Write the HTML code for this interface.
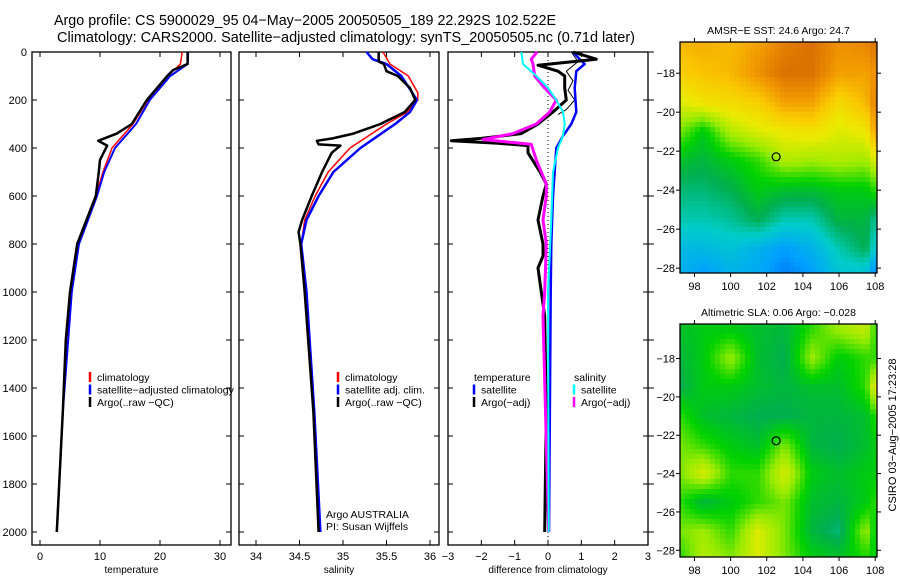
<!DOCTYPE html>
<html><head><meta charset="utf-8">
<style>
body{margin:0;background:#fff;font-family:"Liberation Sans",sans-serif;}
svg text{font-family:"Liberation Sans",sans-serif;}
</style></head>
<body>
<svg id="fig" width="900" height="580" viewBox="0 0 900 580" xmlns="http://www.w3.org/2000/svg">
<rect width="900" height="580" fill="#fff"/>
<text x="54" y="25" font-size="14.5" text-anchor="start" textLength="502" lengthAdjust="spacingAndGlyphs">Argo profile: CS 5900029_95 04−May−2005 20050505_189 22.292S 102.522E</text>
<text x="57" y="42" font-size="14.5" text-anchor="start" textLength="578" lengthAdjust="spacingAndGlyphs">Climatology: CARS2000. Satellite−adjusted climatology: synTS_20050505.nc (0.71d later)</text>
<g id="plots"></g>
</svg>
<script>
// ---------- data ----------
const depthTicks=[0,200,400,600,800,1000,1200,1400,1600,1800,2000];
const tempTicks=[0,10,20,30];
const salTicks=[34,34.5,35,35.5,36];
const diffTicks=[-3,-2,-1,0,1,2,3];

const tDepth=[0,50,75,100,200,300,340,370,390,450,500,600,800,1000,1200,1500,2000];
const tArgo=[24.6,24.6,22.2,21.2,17.8,15.3,12.8,9.7,11.2,10,9.8,9.3,6.2,5.0,4.3,3.8,2.8];
const clDepth=[0,50,100,200,300,400,500,600,800,1000,1500,2000];
const tClim=[23.7,23.4,21.3,18,15.5,12,10.5,9.3,6.3,5.2,3.8,2.8];
const tSat=[24.7,24.6,21.7,18.3,16,12.5,10.7,9.5,6.5,5.3,3.8,2.8];

const sArgoDepth=[0,40,50,80,100,150,200,250,300,340,360,370,385,390,420,500,600,700,750,800,1000,1500,2000];
const sArgo=[35.41,35.41,35.47,35.5,35.63,35.77,35.83,35.71,35.43,35.12,34.88,34.70,34.72,34.97,34.87,34.76,34.64,34.53,34.49,34.51,34.56,34.66,34.72];
const sClimDepth=[0,50,100,170,200,250,300,400,500,600,700,800,1000,1500,2000];
const sClim=[35.46,35.54,35.75,35.86,35.86,35.74,35.5,35.08,34.83,34.68,34.56,34.52,34.58,34.66,34.74];
const sSatDepth=[0,30,50,100,200,250,300,400,500,600,700,800,1000,1500,2000];
const sSat=[35.27,35.34,35.5,35.67,35.85,35.77,35.6,35.2,34.89,34.72,34.58,34.52,34.58,34.67,34.74];

const dTempDepth=[0,30,55,80,100,150,200,250,300,340,360,370,380,390,420,500,550,600,700,800,850,900,1000,1100,1500,2000];
const dTempArgo=[0.75,1.45,-0.3,0.3,0.5,0.5,0.55,0.15,-0.3,-0.8,-2.0,-2.9,-1.5,-0.6,-0.6,-0.24,-0.05,-0.15,-0.3,-0.15,-0.15,-0.3,-0.2,-0.1,-0.05,-0.1];
const dTempSatDepth=[0,30,50,80,150,250,300,350,400,600,800,1000,2000];
const dTempSat=[0.75,0.95,1.1,0.85,0.8,0.85,0.7,0.45,0.25,0.15,0.1,0.08,0.03];
const dSalSatDepth=[0,50,100,150,200,250,300,350,400,500,700,1000,2000];
const dSalSat=[-0.8,-0.75,-0.35,0,0.25,0.45,0.5,0.45,0.3,0.15,0.1,0.0,0.02];
const dSalArgoDepth=[0,30,50,100,150,200,250,300,340,365,375,385,450,550,600,700,800,1000,1100,2000];
const dSalArgo=[-0.33,-0.5,-0.45,-0.4,-0.1,0.25,0.05,-0.35,-1.05,-1.95,-1.2,-0.5,-0.35,-0.05,-0.05,-0.15,-0.05,-0.1,-0.15,0.02];
const dRawDepth=[0,40,80,120,160,200,240,260];
const dRaw=[0.7,0.9,0.55,0.75,0.6,0.8,0.55,0.3];

const lons=[97.2,98.5,100,101.5,103,104.5,106,107.5,108];
const lats=[-16.5,-18,-19.5,-21,-22.5,-24,-25.5,-27,-28.2];
const sstGrid=[
[.8,.82,.8,.85,.92,.95,.88,.9,.95],
[.75,.78,.8,.88,.95,.95,.85,.85,.88],
[.65,.7,.72,.75,.85,.85,.72,.8,.92],
[.55,.45,.6,.65,.68,.7,.65,.68,.85],
[.42,.4,.45,.5,.6,.58,.6,.58,.65],
[.35,.35,.38,.45,.42,.42,.45,.45,.5],
[.3,.3,.32,.38,.3,.3,.4,.4,.32],
[.22,.22,.25,.2,.15,.2,.3,.38,.25],
[.2,.15,.2,.18,.1,.15,.25,.25,.1]];
const slaGrid=[
[.42,.45,.45,.42,.4,.5,.58,.62,.5],
[.4,.45,.58,.42,.38,.58,.45,.5,.5],
[.38,.45,.45,.42,.4,.42,.42,.5,.68],
[.5,.42,.4,.38,.38,.4,.4,.42,.5],
[.55,.5,.45,.42,.55,.4,.38,.42,.45],
[.55,.65,.5,.5,.65,.45,.42,.45,.45],
[.5,.4,.45,.5,.55,.42,.4,.45,.5],
[.55,.58,.5,.65,.55,.4,.35,.58,.45],
[.5,.6,.55,.65,.55,.45,.42,.5,.45]];
const mapLonTicks=[98,100,102,104,106,108];
const mapLatTicks=[-18,-20,-22,-24,-26,-28];
const argoLon=102.52, argoLat=-22.29;

// ---------- helpers ----------
const NS='http://www.w3.org/2000/svg';
const root=document.getElementById('plots');
function el(tag,attrs,parent){const e=document.createElementNS(NS,tag);for(const k in attrs)e.setAttribute(k,attrs[k]);(parent||root).appendChild(e);return e;}
function txt(x,y,s,size,anchor,parent){const t=el('text',{x:x,y:y,'font-size':size,'text-anchor':anchor||'middle'},parent);t.textContent=s;return t;}
const yD=d=>52+d*0.24;
const xT=t=>40+t*6;
const xS=s=>256+(s-34)*87;
const xDf=v=>548+v*33.33;

function line(xs,ds,fx,color,w,name,dash){
  const pts=xs.map((v,i)=>fx(v).toFixed(1)+','+yD(ds[i]).toFixed(1)).join(' ');
  const p=el('polyline',{points:pts,fill:'none',stroke:color,'stroke-width':w,'stroke-linejoin':'round'});
  if(dash)p.setAttribute('stroke-dasharray',dash);
  
  
}
function panel(x0,x1,ticks,fx,labelFmt,xlabel,name,leftLabels){
  const g=el('g',{});
  
  
  el('rect',{x:x0,y:52,width:x1-x0,height:493,fill:'none',stroke:'#000','stroke-width':1.3},g);
  ticks.forEach(t=>{const x=fx(t);
    el('line',{x1:x,x2:x,y1:52,y2:57,stroke:'#000'},g);
    el('line',{x1:x,x2:x,y1:545,y2:540,stroke:'#000'},g);
    const l=txt(x,560,labelFmt(t),11,'middle',g);
    
    
  });
  depthTicks.forEach(d=>{const y=yD(d);
    el('line',{x1:x0,x2:x0+5,y1:y,y2:y,stroke:'#000'},g);
    el('line',{x1:x1,x2:x1-5,y1:y,y2:y,stroke:'#000'},g);
    if(leftLabels){const l=txt(27,y+4,String(d),11,'end',g);
      
      }
  });
  const xl=txt((x0+x1)/2,573,xlabel,10,'middle',g);
  
  
  return g;
}
function fmtNum(t){return (t<0?'−':'')+Math.abs(t);}

// ---------- panels ----------
panel(32,231,tempTicks,xT,fmtNum,'temperature','temperature-panel',true);
panel(239,439,salTicks,xS,fmtNum,'salinity','salinity-panel',false);
panel(448,648,diffTicks,xDf,fmtNum,'difference from climatology','difference-panel',false);
depthTicks.forEach(d=>{el('line',{x1:648,x2:654,y1:yD(d),y2:yD(d),stroke:'#000'});});

line(tClim,clDepth,xT,'#f00',1.5,'temp-climatology-line');
line(tSat,clDepth,xT,'#00f',2,'temp-satellite-line');
line(tArgo,tDepth,xT,'#000',2.5,'temp-argo-line');

line(sClim,sClimDepth,xS,'#f00',1.5,'sal-climatology-line');
line(sSat,sSatDepth,xS,'#00f',2.5,'sal-satellite-line');
line(sArgo,sArgoDepth,xS,'#000',2.5,'sal-argo-line');

el('line',{x1:xDf(0),x2:xDf(0),y1:52,y2:545,stroke:'#000','stroke-dasharray':'1,3'});
line(dRaw,dRawDepth,xDf,'#000',1,'diff-raw-line');
line(dTempSat,dTempSatDepth,xDf,'#00f',2.5,'diff-temp-satellite-line');
line(dTempArgo,dTempDepth,xDf,'#000',3,'diff-temp-argo-line');
line(dSalArgo,dSalArgoDepth,xDf,'#f0f',3,'diff-sal-argo-line');
line(dSalSat,dSalSatDepth,xDf,'#0ff',2,'diff-sal-satellite-line');

// ---------- legends ----------
function legend(x,y,items,name){
  const g=el('g',{});
  
  
  items.forEach((it,i)=>{
    const yy=y+i*12.5;
    if(it[1])el('line',{x1:x,x2:x,y1:yy-9,y2:yy+1,stroke:it[1],'stroke-width':2.5},g);
    txt(x+(it[1]?7:0),yy,it[0],10.5,'start',g);
  });
}
legend(90,381,[['climatology','#f00'],['satellite−adjusted climatology','#00f'],['Argo(..raw −QC)','#000']],'temperature-legend');
legend(338,381,[['climatology','#f00'],['satellite adj. clim.','#00f'],['Argo(..raw −QC)','#000']],'salinity-legend');
legend(474,381,[['temperature',null],['satellite','#00f'],['Argo(−adj)','#000']],'diff-temperature-legend');
legend(574,381,[['salinity',null],['satellite','#0ff'],['Argo(−adj)','#f0f']],'diff-salinity-legend');
const ad=txt(326,518,'Argo AUSTRALIA',10.5,'start');
const pi=txt(326,530,'PI: Susan Wijffels',10.5,'start');

// ---------- maps ----------
const stops=[[0,[0,60,230]],[0.15,[0,160,255]],[0.28,[0,205,200]],[0.38,[0,175,80]],[0.47,[0,210,0]],[0.57,[150,235,0]],[0.67,[235,235,0]],[0.77,[250,200,0]],[0.87,[240,150,0]],[1,[205,90,0]]];
function cmap(v){v=Math.max(0,Math.min(1,v));for(let i=1;i<stops.length;i++){if(v<=stops[i][0]){const a=stops[i-1],b=stops[i];const f=(v-a[0])/(b[0]-a[0]);const c=a[1].map((c0,k)=>Math.round(c0+(b[1][k]-c0)*f));return 'rgb('+c.join(',')+')';}}return 'rgb(205,90,0)';}
function interp(arr,v){
  const inc=arr[arr.length-1]>arr[0];
  for(let i=0;i<arr.length-1;i++){const a=arr[i],b=arr[i+1];
    if(inc?(v>=a&&v<=b):(v<=a&&v>=b))return i+(v-a)/(b-a);}
  return (inc?v<arr[0]:v>arr[0])?0:arr.length-1;}
function sample(grid,lon,lat){
  const fx=interp(lons,lon),fy=interp(lats,lat);
  const i=Math.min(Math.floor(fy),lats.length-2),j=Math.min(Math.floor(fx),lons.length-2);
  const u=fx-j,v=fy-i;
  return grid[i][j]*(1-u)*(1-v)+grid[i][j+1]*u*(1-v)+grid[i+1][j]*(1-u)*v+grid[i+1][j+1]*u*v;}
function map(grid,top,bottom,title,name){
  const x0=680,x1=877,lonA=97.2,lonB=108.1;
  const latT=name==='sla-map'?-16.2:-16.4, latB=name==='sla-map'?-28.35:-28.25;
  const g=el('g',{});
  
  
  const cw=5,ch=5;
  const fxp=lon=>x0+(lon-lonA)/(lonB-lonA)*(x1-x0);
  const fyp=lat=>top+(latT-lat)/(latT-latB)*(bottom-top);
  for(let y=top;y<bottom;y+=ch){for(let x=x0;x<x1;x+=cw){
    const lon=lonA+(x+cw/2-x0)/(x1-x0)*(lonB-lonA);
    const lat=latT-(y+ch/2-top)/(bottom-top)*(latT-latB);
    const c=el('rect',{x:x,y:y,width:Math.min(cw,x1-x),height:Math.min(ch,bottom-y),fill:cmap(sample(grid,lon,lat))},g);
    
    
  }}
  el('rect',{x:x0,y:top,width:x1-x0,height:bottom-top,fill:'none',stroke:'#000','stroke-width':1.3},g);
  mapLonTicks.forEach(l=>{const x=fxp(l);
    el('line',{x1:x,x2:x,y1:top,y2:top-4,stroke:'#000'},g);
    el('line',{x1:x,x2:x,y1:bottom,y2:bottom+4,stroke:'#000'},g);
    txt(x,bottom+17,String(l),11,'middle',g);});
  mapLatTicks.forEach(l=>{const y=fyp(l);
    el('line',{x1:x0,x2:x0-4,y1:y,y2:y,stroke:'#000'},g);
    el('line',{x1:x1,x2:x1+4,y1:y,y2:y,stroke:'#000'},g);
    txt(675,y+4,'−'+Math.abs(l),11,'end',g);});
  const m=el('circle',{cx:fxp(argoLon),cy:fyp(argoLat),r:4,fill:'none',stroke:'#000','stroke-width':1.2},g);
  
  
  const t=txt((x0+x1)/2,top-8,title,10.5,'middle',g);
  
  
}
map(sstGrid,42,273,'AMSR−E SST: 24.6 Argo: 24.7','sst-map');
map(slaGrid,324,557,'Altimetric SLA: 0.06 Argo: −0.028','sla-map');
const cs=txt(0,0,'CSIRO 03−Aug−2005 17:23:28',11,'middle');
cs.setAttribute('transform','translate(896,435) rotate(-90)');


</script>
</body></html>
